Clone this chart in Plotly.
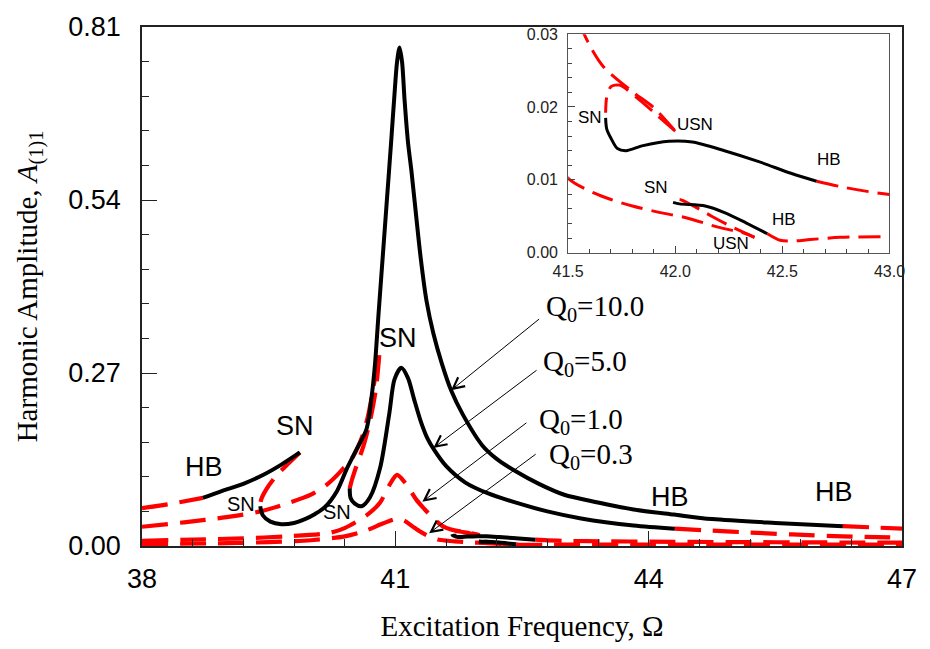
import plotly.graph_objects as go

# ---------------- data: harmonic amplitude A(1)1 vs excitation frequency ----------------
# Each branch is (omega values, amplitude values); "s" = stable (solid), "u" = unstable (dashed)

# Q0 = 10.0
q10_u1 = ([38.0, 38.3, 38.72], [0.059, 0.065, 0.075])
q10_s1 = ([38.72, 38.95, 39.2, 39.45, 39.65, 39.87],
          [0.075, 0.086, 0.097, 0.112, 0.127, 0.146])
q10_u2 = ([39.87, 39.72, 39.58, 39.47, 39.41, 39.40],
          [0.146, 0.127, 0.108, 0.088, 0.072, 0.062])
q10_s2 = ([39.40, 39.43, 39.52, 39.65, 39.8, 39.93, 40.05, 40.16, 40.31, 40.43, 40.55, 40.66,
           40.72, 40.76, 40.80, 40.85, 40.90, 40.95, 40.99, 41.02, 41.05, 41.08, 41.11, 41.15,
           41.19, 41.23, 41.30, 41.37, 41.45, 41.55, 41.66, 41.8, 42.03, 42.2, 42.42, 42.7,
           43.0, 43.4, 43.82, 44.3, 44.75, 45.5, 46.30],
          [0.062, 0.048, 0.038, 0.034, 0.036, 0.042, 0.050, 0.060, 0.086, 0.122, 0.153, 0.183,
           0.234, 0.285, 0.36, 0.45, 0.54, 0.63, 0.705, 0.755, 0.778, 0.755, 0.695, 0.63,
           0.586, 0.536, 0.45, 0.382, 0.332, 0.285, 0.243, 0.205, 0.157, 0.136, 0.117, 0.097,
           0.080, 0.068, 0.057, 0.049, 0.042, 0.036, 0.031])
q10_u3 = ([46.30, 46.65, 47.0], [0.031, 0.029, 0.027])

# Q0 = 5.0
q5_u1 = ([38.0, 38.5, 39.0, 39.4, 39.73, 40.0, 40.2, 40.35, 40.5, 40.6, 40.68, 40.75, 40.81],
         [0.030, 0.037, 0.045, 0.054, 0.067, 0.080, 0.097, 0.116, 0.140, 0.168, 0.205, 0.255, 0.298])
q5_u2 = ([40.81, 40.77, 40.70, 40.62, 40.54, 40.49, 40.46],
         [0.298, 0.245, 0.195, 0.155, 0.125, 0.105, 0.090])
q5_s = ([40.46, 40.47, 40.52, 40.6, 40.7, 40.82, 40.93, 40.99, 41.07, 41.15, 41.22, 41.30,
         41.38, 41.46, 41.6, 41.83, 42.1, 42.42, 42.8, 43.2, 43.82, 44.31],
        [0.090, 0.075, 0.066, 0.062, 0.076, 0.122, 0.208, 0.26, 0.278, 0.262, 0.23, 0.195,
         0.168, 0.150, 0.125, 0.099, 0.082, 0.068, 0.054, 0.043, 0.032, 0.027])
q5_u3 = ([44.31, 44.75, 45.2, 45.7, 46.3, 47.0], [0.027, 0.024, 0.021, 0.018, 0.015, 0.013])

# Q0 = 1.0
q1_u1 = ([38.0, 38.6, 39.2, 39.7, 40.2, 40.4, 40.67, 40.82, 40.93, 41.02, 41.12, 41.25, 41.35,
          41.45, 41.56, 41.66, 41.80, 41.90, 42.0],
         [0.008, 0.010, 0.012, 0.015, 0.020, 0.028, 0.049, 0.068, 0.095, 0.111, 0.098, 0.072, 0.057,
          0.043, 0.031, 0.0257, 0.0221, 0.0199, 0.0167])
q1_u2 = ([42.0, 41.91, 41.84, 41.74, 41.70, 41.68, 41.675],
         [0.0167, 0.0190, 0.0208, 0.0230, 0.0228, 0.0213, 0.0192])
q1_s = ([41.675, 41.68, 41.70, 41.73, 41.77, 41.85, 41.97, 42.08, 42.23, 42.39, 42.54, 42.66],
        [0.0185, 0.0170, 0.0157, 0.0143, 0.0140, 0.0147, 0.0153, 0.0152, 0.0140, 0.0125, 0.0109, 0.0098])
q1_u3 = ([42.66, 42.80, 43.0, 43.5, 44.0, 45.0, 46.0, 47.0],
         [0.0098, 0.0089, 0.0080, 0.0073, 0.0068, 0.0061, 0.0056, 0.0052])

# Q0 = 0.3
q03_u1 = ([38.0, 38.8, 39.5, 40.0, 40.4, 40.65, 40.85, 41.0, 41.1, 41.2, 41.3, 41.4, 41.5,
           41.62, 41.70, 41.80, 41.93, 42.05, 42.20, 42.33, 42.37],
          [0.003, 0.004, 0.006, 0.009, 0.015, 0.024, 0.035, 0.042, 0.040, 0.031, 0.022, 0.015, 0.0102,
           0.0082, 0.0073, 0.0064, 0.0055, 0.0048, 0.0035, 0.0026, 0.0021])
q03_u2 = ([42.37, 42.26, 42.17, 42.08, 42.02, 41.99],
          [0.0021, 0.0036, 0.0050, 0.0065, 0.0073, 0.0071])
q03_s = ([41.99, 42.02, 42.14, 42.23, 42.33, 42.43],
         [0.0069, 0.0067, 0.0064, 0.0055, 0.0041, 0.0026])
q03_u3 = ([42.43, 42.49, 42.55, 42.63, 42.77, 43.0, 44.0, 45.0, 46.0, 47.0],
          [0.0026, 0.0017, 0.0016, 0.0018, 0.0021, 0.0022, 0.0022, 0.0021, 0.0020, 0.0020])

stable_main = [q10_s1, q10_s2, q5_s, q1_s, q03_s]
unstable_main = [q10_u1, q10_u2, q10_u3, q5_u1, q5_u2, q5_u3,
                 q1_u1, q1_u2, q1_u3, q03_u1, q03_u2, q03_u3]
stable_inset = [q1_s, q03_s]
unstable_inset = [q1_u1, q1_u2, q1_u3, q03_u1, q03_u2, q03_u3]

# curve labels and the leader arrows pointing from each label to its curve
q_labels = ["Q<sub>0</sub>=10.0", "Q<sub>0</sub>=5.0", "Q<sub>0</sub>=1.0", "Q<sub>0</sub>=0.3"]
q_label_x = [42.76, 42.73, 42.68, 42.80]
q_label_y = [0.372, 0.286, 0.195, 0.140]
arrow_tail_x = [42.72, 42.69, 42.57, 42.68]
arrow_tail_y = [0.356, 0.276, 0.194, 0.145]
arrow_head_x = [41.66, 41.45, 41.32, 41.40]
arrow_head_y = [0.243, 0.153, 0.069, 0.020]

# bifurcation point labels on the main axes
bif_text = ["HB", "SN", "SN", "SN", "SN", "HB", "HB"]
bif_x = [38.74, 39.81, 39.17, 40.31, 41.03, 44.25, 46.19]
bif_y = [0.124, 0.187, 0.065, 0.053, 0.324, 0.076, 0.085]
bif_size = [27, 27, 20, 20, 27, 27, 27]

# bifurcation point labels in the inset
inset_text = ["SN", "USN", "HB", "SN", "HB", "USN"]
inset_x = [41.60, 42.09, 42.72, 41.91, 42.51, 42.26]
inset_y = [0.0185, 0.0176, 0.0128, 0.0089, 0.0045, 0.0012]

RED = "#ff0000"
SANS = "Liberation Sans, Arial, sans-serif"
SERIF = "Liberation Serif, Times New Roman, serif"

fig = go.Figure()

def add_branch(branch, color, dash, width, xa="x", ya="y"):
    fig.add_trace(go.Scatter(
        x=branch[0], y=branch[1], mode="lines", xaxis=xa, yaxis=ya,
        line=dict(color=color, width=width, dash=dash, shape="spline", smoothing=0.8),
        hoverinfo="skip", showlegend=False))

for b in unstable_main:
    add_branch(b, RED, "26px,12px", 4.2)
for b in stable_main:
    add_branch(b, "black", "solid", 4)
for b in unstable_inset:
    add_branch(b, RED, "22px,9px", 3, "x2", "y2")
for b in stable_inset:
    add_branch(b, "black", "solid", 3, "x2", "y2")

annotations = []
for t, x, y in zip(q_labels, q_label_x, q_label_y):
    annotations.append(dict(x=x, y=y, xref="x", yref="y", text=t, showarrow=False,
                            xanchor="left", yanchor="middle",
                            font=dict(family=SERIF, size=29, color="black")))
for tx, ty, hx, hy in zip(arrow_tail_x, arrow_tail_y, arrow_head_x, arrow_head_y):
    annotations.append(dict(x=hx, y=hy, ax=tx, ay=ty, xref="x", yref="y",
                            axref="x", ayref="y", text="", showarrow=True,
                            arrowhead=5, arrowsize=2.2, arrowwidth=1, arrowcolor="black"))
for t, x, y, s in zip(bif_text, bif_x, bif_y, bif_size):
    annotations.append(dict(x=x, y=y, xref="x", yref="y", text=t, showarrow=False,
                            font=dict(family=SANS, size=s, color="black")))
for t, x, y in zip(inset_text, inset_x, inset_y):
    annotations.append(dict(x=x, y=y, xref="x2", yref="y2", text=t, showarrow=False,
                            font=dict(family=SANS, size=17, color="black")))

fig.update_layout(
    width=930, height=649,
    margin=dict(l=142, r=17, t=21, b=100),
    paper_bgcolor="white", plot_bgcolor="white",
    annotations=annotations,
    xaxis=dict(
        range=[38, 47], tick0=38, dtick=3, ticks="inside", ticklen=15, tickwidth=1.3,
        tickcolor="#222", showline=True, linecolor="#222", linewidth=1.6, mirror=True,
        showgrid=False, zeroline=False,
        tickfont=dict(family=SANS, size=27, color="black"), ticklabelstandoff=8,
        minor=dict(dtick=0.6, tick0=38, ticks="inside", ticklen=7, tickwidth=1.2, tickcolor="#222"),
        title=dict(text="Excitation Frequency, \u03a9", standoff=22,
                   font=dict(family=SERIF, size=29, color="black")),
    ),
    yaxis=dict(
        range=[0, 0.81], tick0=0, dtick=0.27, tickformat=".2f", ticks="inside", ticklen=15,
        tickwidth=1.3, tickcolor="#222", showline=True, linecolor="#222", linewidth=1.6,
        mirror=True, showgrid=False, zeroline=False,
        tickfont=dict(family=SANS, size=27, color="black"), ticklabelstandoff=14,
        minor=dict(dtick=0.054, tick0=0, ticks="inside", ticklen=7, tickwidth=1.2, tickcolor="#222"),
        title=dict(text="Harmonic Amplitude, <i>A</i><sub>(1)1</sub>", standoff=22,
                   font=dict(family=SERIF, size=29, color="black")),
    ),
    xaxis2=dict(
        domain=[0.5607, 0.9835], anchor="y2", range=[41.5, 43.0], tick0=41.5, dtick=0.5,
        tickformat=".1f", ticks="inside", ticklen=7, tickwidth=1, tickcolor="#444",
        showline=True, linecolor="#555", linewidth=1, mirror=True, showgrid=False, zeroline=False,
        tickfont=dict(family=SANS, size=16, color="#222"), ticklabelstandoff=4,
        minor=dict(dtick=0.1, tick0=41.5, ticks="inside", ticklen=4, tickwidth=1, tickcolor="#444"),
    ),
    yaxis2=dict(
        domain=[0.5652, 0.9862], anchor="x2", range=[0, 0.03], tick0=0, dtick=0.01,
        tickformat=".2f", ticks="inside", ticklen=7, tickwidth=1, tickcolor="#444",
        showline=True, linecolor="#555", linewidth=1, mirror=True, showgrid=False, zeroline=False,
        tickfont=dict(family=SANS, size=16, color="#222"), ticklabelstandoff=6,
        minor=dict(dtick=0.002, tick0=0, ticks="inside", ticklen=4, tickwidth=1, tickcolor="#444"),
    ),
)

fig.write_html("out.html")
